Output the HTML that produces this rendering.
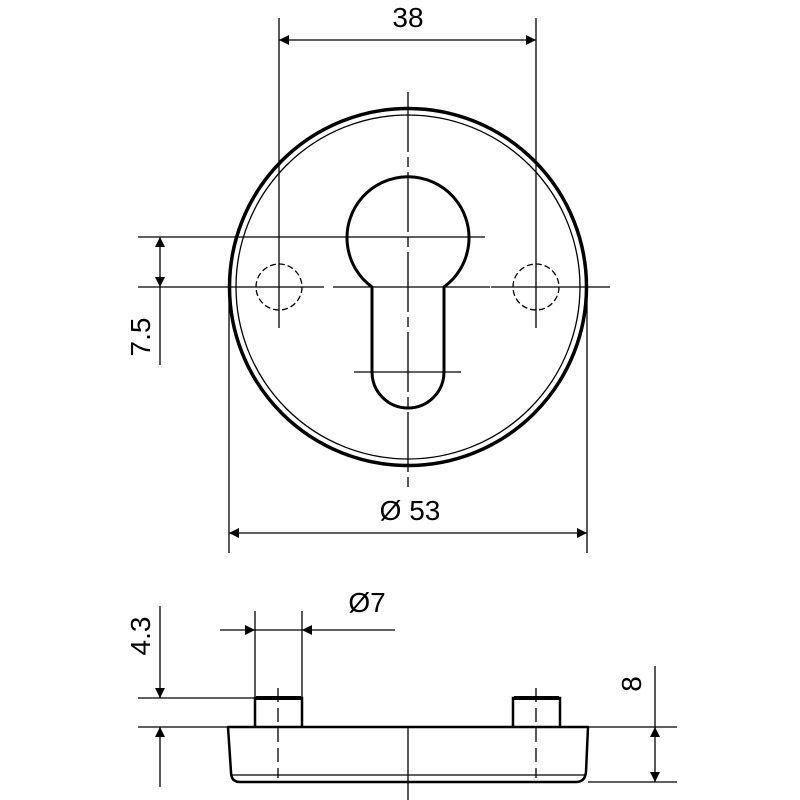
<!DOCTYPE html>
<html><head><meta charset="utf-8"><style>html,body{margin:0;padding:0;background:#fff}svg{display:block}</style></head><body>
<svg width="800" height="800" viewBox="0 0 800 800" xmlns="http://www.w3.org/2000/svg" font-family="Liberation Sans, sans-serif">
<defs>
<marker id="a" viewBox="0 0 10 10" refX="10" refY="5" markerWidth="17" markerHeight="10" orient="auto-start-reverse" markerUnits="userSpaceOnUse"><path d="M0,0 L10,5 L0,10 z" fill="#000"/></marker>
</defs>
<g fill="none" stroke="#000">
<circle cx="408" cy="287" r="178.5" stroke-width="3.5"/>
<circle cx="408" cy="287" r="172" stroke-width="1.3"/>
<path d="M372,287 L372,372 A36,36 0 0 0 444,372 L444,287 A61,61 0 1 0 372,287 Z" stroke-width="3" stroke-linejoin="round"/>
<circle cx="279" cy="287" r="23" stroke-width="1.3" stroke-dasharray="6,3"/>
<circle cx="536" cy="287" r="23" stroke-width="1.3" stroke-dasharray="6,3"/>
<g stroke-width="1.3">
<line x1="408" y1="92" x2="408" y2="490" stroke-dasharray="60,5,10,5"/>
<line x1="138" y1="287" x2="324" y2="287"/>
<line x1="333" y1="287" x2="490" y2="287"/>
<line x1="491" y1="287" x2="610" y2="287"/>
<line x1="138" y1="237" x2="485" y2="237"/>
<line x1="354" y1="372" x2="461" y2="372"/>
<line x1="279" y1="18" x2="279" y2="328"/>
<line x1="536" y1="18" x2="536" y2="328"/>
<line x1="229" y1="300" x2="229" y2="553"/>
<line x1="587" y1="300" x2="587" y2="553"/>
<line x1="279" y1="40" x2="536" y2="40" marker-start="url(#a)" marker-end="url(#a)"/>
<line x1="229" y1="533" x2="587" y2="533" marker-start="url(#a)" marker-end="url(#a)"/>
<line x1="160" y1="237" x2="160" y2="287" marker-start="url(#a)" marker-end="url(#a)"/>
<line x1="160" y1="287" x2="160" y2="365"/>
</g>
<path d="M228,727 L588,727 L586,772 Q585,782 576,782 L240,782 Q231,782 231,772 Z" stroke-width="2.5" stroke-linejoin="round"/>
<line x1="231" y1="775" x2="586" y2="775" stroke-width="1.3"/>
<path d="M255,727 L255,698 L302,698 L302,727" stroke-width="2.5"/>
<path d="M513,727 L513,698 L560,698 L560,727" stroke-width="2.5"/>
<line x1="256" y1="698" x2="301" y2="698" stroke-width="4"/>
<line x1="514" y1="698" x2="559" y2="698" stroke-width="4"/>
<g stroke-width="1.3">
<line x1="278" y1="688" x2="278" y2="778" stroke-dasharray="14,6"/>
<line x1="536" y1="688" x2="536" y2="778" stroke-dasharray="14,6"/>
<line x1="408" y1="728" x2="408" y2="800"/>
<line x1="138" y1="698" x2="255" y2="698"/>
<line x1="138" y1="727" x2="228" y2="727"/>
<line x1="588" y1="727" x2="677" y2="727"/>
<line x1="588" y1="782" x2="677" y2="782"/>
<line x1="255" y1="611" x2="255" y2="698"/>
<line x1="302" y1="611" x2="302" y2="698"/>
<line x1="220" y1="630" x2="255" y2="630" marker-end="url(#a)"/>
<line x1="395" y1="630" x2="302" y2="630" marker-end="url(#a)"/>
<line x1="255" y1="630" x2="302" y2="630"/>
<line x1="160" y1="606" x2="160" y2="698" marker-end="url(#a)"/>
<line x1="160" y1="787" x2="160" y2="727" marker-end="url(#a)"/>
<line x1="655" y1="666" x2="655" y2="727"/>
<line x1="655" y1="727" x2="655" y2="782" marker-start="url(#a)" marker-end="url(#a)"/>
</g>
</g>
<g font-size="28" fill="#000">
<text x="408" y="27" text-anchor="middle">38</text>
<text x="410" y="520" text-anchor="middle">Ø 53</text>
<text x="367" y="612" text-anchor="middle">Ø7</text>
<text transform="translate(150,337) rotate(-90)" text-anchor="middle">7.5</text>
<text transform="translate(150,636) rotate(-90)" text-anchor="middle">4.3</text>
<text transform="translate(641,684) rotate(-90)" text-anchor="middle">8</text>
</g>
</svg>
</body></html>
